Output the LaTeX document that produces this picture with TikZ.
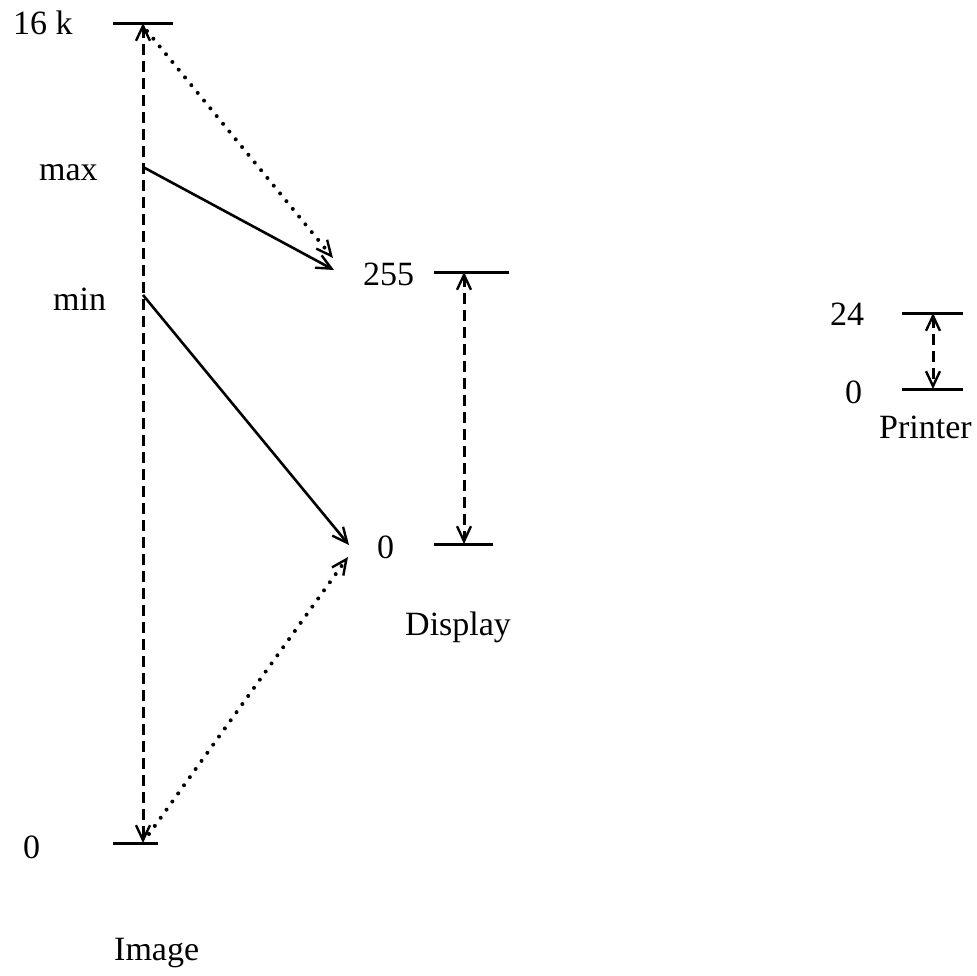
\documentclass[tikz,border=0pt]{standalone}
\usepackage{fontspec}
\setmainfont{Liberation Serif}
\usetikzlibrary{arrows.meta}
\begin{document}
\begin{tikzpicture}[x=1pt,y=-1pt,
  lab/.style={anchor=base west,inner sep=0pt,font=\fontsize{34}{40}\selectfont},
  tickline/.style={line width=3pt},
  tip/.tip={Straight Barb[length=15pt,width=14pt,line width=2.4pt]},
  onebarb/.style={-tip},
  twobarb/.style={tip-tip},
  dashline/.style={line width=3pt,dash pattern=on 11pt off 6pt},
  dotline/.style={line width=4pt,line cap=round,dash pattern=on 0pt off 10pt},
  solidline/.style={line width=2.6pt}]
\useasboundingbox (0,0) rectangle (977,975);
% Image scale
\coordinate (itopL) at (113,23); \coordinate (itopR) at (173,23);
\coordinate (ibotL) at (113,843); \coordinate (ibotR) at (158,843);
\coordinate (itop) at (143,23); \coordinate (ibot) at (143,843);
\coordinate (imax) at (143,167); \coordinate (imin) at (143,295);
\coordinate (idottop) at (147,31); \coordinate (idotbot) at (149,834);
% Display scale
\coordinate (dtopL) at (434,272); \coordinate (dtopR) at (509,272);
\coordinate (dbotL) at (434,544); \coordinate (dbotR) at (493,544);
\coordinate (dtop) at (464,272); \coordinate (dbot) at (464,544);
\coordinate (dmaxend) at (334,270); \coordinate (ddottop) at (333,258);
\coordinate (dminend) at (349,545); \coordinate (ddotbot) at (348,557);
% Printer scale
\coordinate (ptopL) at (902,313); \coordinate (ptopR) at (963,313);
\coordinate (pbotL) at (902,389); \coordinate (pbotR) at (963,389);
\coordinate (ptop) at (933,313); \coordinate (pbot) at (933,389);
% labels
\node[lab] (l16k) at (13,34) {16 k};
\node[lab] (lmax) at (39,180) {max};
\node[lab] (lmin) at (53,310) {min};
\node[lab] (li0) at (23,858) {0};
\node[lab] (limage) at (114,960) {Image};
\node[lab] (l255) at (363,285) {255};
\node[lab] (ld0) at (377,558) {0};
\node[lab] (ldisplay) at (405,635) {Display};
\node[lab] (l24) at (830,325) {24};
\node[lab] (lp0) at (845,403) {0};
\node[lab] (lprinter) at (879,438) {Printer};
% ticks
\draw[tickline] (itopL) -- (itopR);
\draw[tickline] (ibotL) -- (ibotR);
\draw[tickline] (dtopL) -- (dtopR);
\draw[tickline] (dbotL) -- (dbotR);
\draw[tickline] (ptopL) -- (ptopR);
\draw[tickline] (pbotL) -- (pbotR);
% ranges
\draw[dashline,twobarb] (itop) -- (ibot);
\draw[dashline,twobarb] (dtop) -- (dbot);
\draw[dashline,twobarb] (ptop) -- (pbot);
% mappings
\draw[solidline,onebarb] (imax) -- (dmaxend);
\draw[solidline,onebarb] (imin) -- (dminend);
\draw[dotline,onebarb] (idottop) -- (ddottop);
\draw[dotline,onebarb] (idotbot) -- (ddotbot);
\end{tikzpicture}
\end{document}
